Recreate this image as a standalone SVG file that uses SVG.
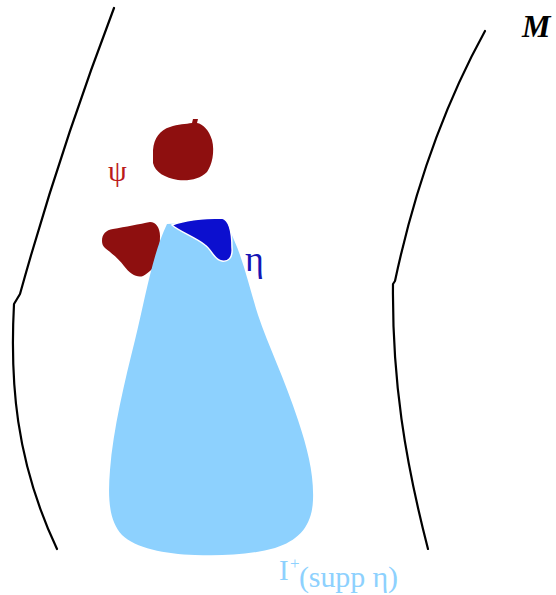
<svg xmlns="http://www.w3.org/2000/svg" width="556" height="595" viewBox="0 0 556 595">
<style>
.bd{fill:none;stroke:#000;stroke-width:2.2;stroke-linecap:round;stroke-linejoin:round}
.red{fill:#8e0f0f}
.lb{fill:#8dd1fe}
.db{fill:#0c0fcf;stroke:#fff;stroke-width:1.5}
.t{font-family:"Liberation Serif","DejaVu Serif",serif}
</style>
<rect width="556" height="595" fill="#fff"/>
<g id="boundaries">
<path class="bd" d="M114,8 Q60,150 20,294 L14,304 C10,380 15,460 57,549"/>
<path class="bd" d="M485,31 Q425,140 395,281 L393,284 C392,380 405,460 428,549"/>
</g>
<g id="M-label"><text class="t" x="522" y="37" font-size="32" font-weight="bold" font-style="italic">M</text></g>
<g id="psi">
<path class="red" d="M153,150 C154,138 160,130 170,127 C178,124 186,124 192,123 L193,119 L198,119 L197,123 C203,124 209,130 212,140 C215,152 212,165 207,172 C200,179 190,181 178,180 C165,178 155,172 153,163 Z"/>
<path class="red" d="M102,241 C102,234 106,230 113,229 C125,227 140,224 150,222 C156,222 160,228 160,236 C160,245 159,252 157,260 C155,267 150,272 143,276 C137,278 130,274 124,266 C118,258 110,252 105,248 C103,246 102,244 102,241 Z"/>
<text class="t" x="108" y="181" font-size="30" fill="#bb1a1c">ψ</text>
</g>
<g id="future">
<path class="lb" d="M167,224 L226,221 L234,240 C244,262 250,290 258,315 C268,345 285,380 298,420 C308,450 314,475 313,500 C312,525 300,540 275,548 C250,555 220,556 195,555 C165,554 135,548 122,535 C108,520 108,495 110,470 C113,430 125,380 135,340 C145,300 152,255 167,224 Z"/>
<text class="t" x="279" y="580" font-size="29" fill="#8dd1fe">I</text>
<text class="t" x="290" y="569" font-size="17" fill="#8dd1fe">+</text>
<text class="t" x="299" y="587" font-size="30" fill="#8dd1fe" textLength="99">(supp η)</text>
</g>
<g id="eta">
<path class="db" d="M172,225 C185,220 205,218 222,218 C230,220 232,235 232,248 C233,258 228,262 222,261 C214,260 212,250 205,245 C195,237 180,232 172,225 Z"/>
<text class="t" x="245" y="271" font-size="36" fill="#1515b5">η</text>
</g>
</svg>
